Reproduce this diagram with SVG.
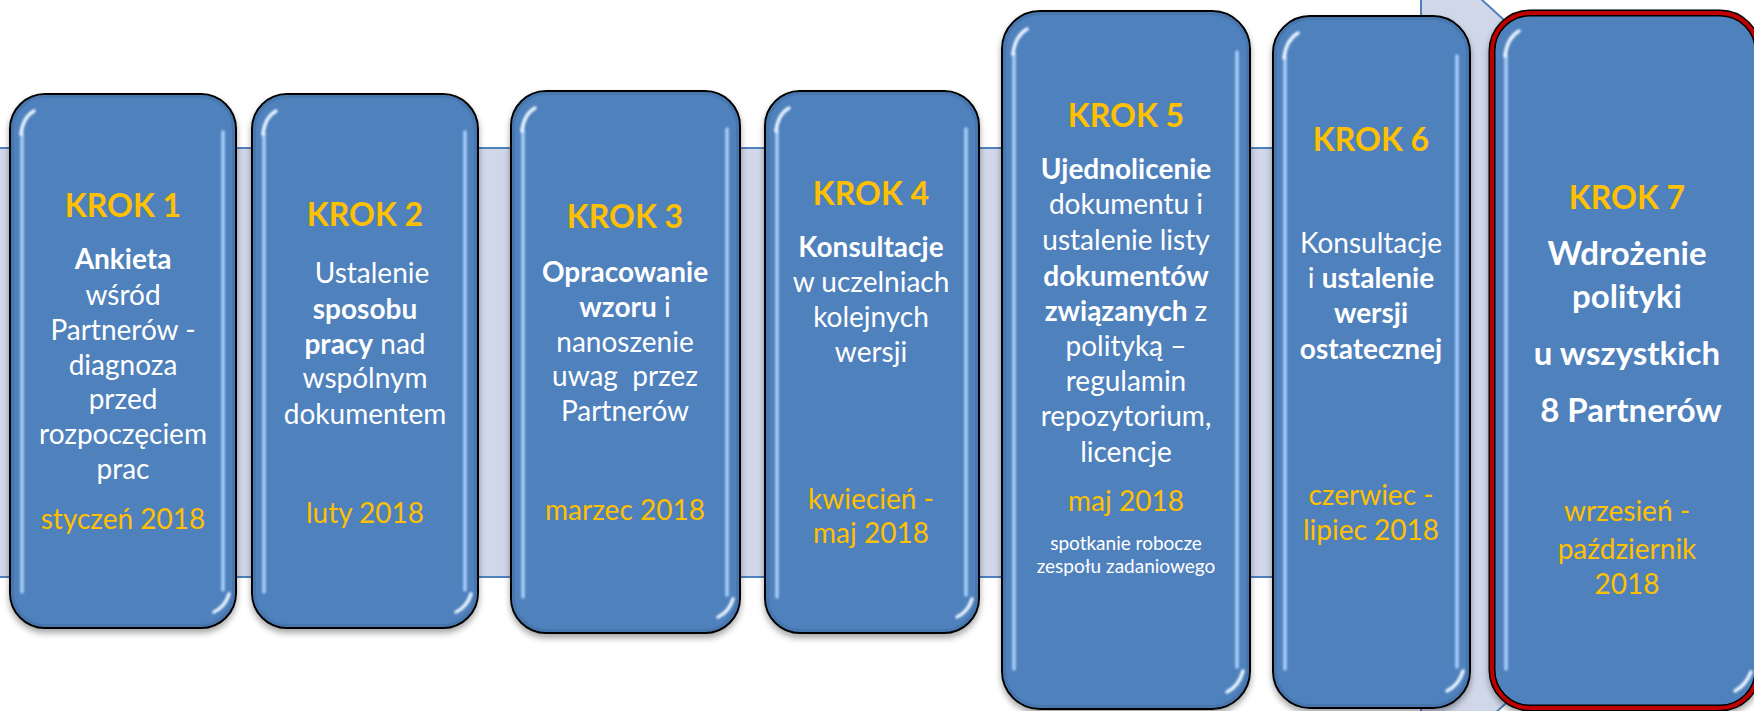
<svg xmlns="http://www.w3.org/2000/svg" width="1754" height="711" viewBox="0 0 1754 711">
<defs>
<style>
.box{fill:#4F81BD;stroke:#000;stroke-width:2;filter:url(#shadow)}
.box7{fill:#4F81BD;stroke:#000;stroke-width:7;filter:url(#shadow)}
.box7red{fill:none;stroke:#C00000;stroke-width:4}
.rim{fill:none;stroke:#456FA3;stroke-width:3;opacity:.6}
.hl{fill:none;stroke:#B3D8FF;stroke-width:3.5;stroke-linecap:round;opacity:.9;filter:url(#soft)}
.hlc{fill:none;stroke:#EAF5FF;stroke-width:3.5;stroke-linecap:round;filter:url(#soft)}
text{font-family:Lato,"Open Sans","Liberation Sans",sans-serif;text-anchor:middle}
.krok{font-size:32px;font-weight:bold;fill:#FFC000}
.t{font-size:28px;fill:#FFFFFF}
.b{font-weight:bold}
.d{font-size:28px;fill:#FFC000}
.s{font-size:19px;fill:#FFFFFF}
.t7{font-size:33px;font-weight:bold;fill:#FFFFFF}
.arrow{fill:#D0D7E8;stroke:#4F81BD;stroke-width:2}
</style>
<filter id="shadow" x="-10%" y="-10%" width="120%" height="120%">
<feDropShadow dx="0" dy="4" stdDeviation="3" flood-color="#000" flood-opacity="0.35"/>
</filter>
<filter id="soft" filterUnits="userSpaceOnUse" x="0" y="0" width="1754" height="711">
<feGaussianBlur stdDeviation="0.8"/>
</filter>
</defs>
<rect width="1754" height="711" fill="#FFFFFF"/>
<g id="connectors">
<polygon class="arrow" points="-10,148 1421,148 1421,-56 1878,362.5 1421,781 1421,577 -10,577"/>
</g>

<g id="step1">
<rect class="box" x="10" y="94" width="226" height="534" rx="35"/>
<rect class="rim" x="12.5" y="96.5" width="221" height="529" rx="33"/>
<path class="hl" d="M22,592 L22,134"/>
<path class="hlc" d="M21,134 Q23,117 34,111"/>
<path class="hl" d="M223,132 L223,590"/>
<path class="hlc" d="M229,594 Q225,607 214,612"/>
<text class="krok" x="123" y="217">KROK 1</text>
<text class="t" x="123" y="269"><tspan class="b">Ankieta</tspan></text>
<text class="t" x="123" y="305">wśród</text>
<text class="t" x="123" y="340">Partnerów -</text>
<text class="t" x="123" y="375">diagnoza</text>
<text class="t" x="123" y="409">przed</text>
<text class="t" x="123" y="444">rozpoczęciem</text>
<text class="t" x="123" y="479">prac</text>
<text class="d" x="123" y="529">styczeń 2018</text>
</g>

<g id="step2">
<rect class="box" x="252" y="94" width="226" height="534" rx="35"/>
<rect class="rim" x="254.5" y="96.5" width="221" height="529" rx="33"/>
<path class="hl" d="M264,592 L264,134"/>
<path class="hlc" d="M263,134 Q265,117 276,111"/>
<path class="hl" d="M465,132 L465,590"/>
<path class="hlc" d="M471,594 Q467,607 456,612"/>
<text class="krok" x="365" y="226">KROK 2</text>
<text class="t" x="372" y="283">Ustalenie</text>
<text class="t" x="365" y="319"><tspan class="b">sposobu</tspan></text>
<text class="t" x="365" y="354"><tspan class="b">pracy</tspan> nad</text>
<text class="t" x="365" y="388">wspólnym</text>
<text class="t" x="365" y="424">dokumentem</text>
<text class="d" x="365" y="523">luty 2018</text>
</g>

<g id="step3">
<rect class="box" x="511" y="91" width="229" height="542" rx="35"/>
<rect class="rim" x="513.5" y="93.5" width="224" height="537" rx="33"/>
<path class="hl" d="M523,597 L523,131"/>
<path class="hlc" d="M522,131 Q524,114 535,108"/>
<path class="hl" d="M727,129 L727,595"/>
<path class="hlc" d="M733,599 Q729,612 718,617"/>
<text class="krok" x="625" y="228">KROK 3</text>
<text class="t" x="625" y="282"><tspan class="b">Opracowanie</tspan></text>
<text class="t" x="625" y="317"><tspan class="b">wzoru</tspan> i</text>
<text class="t" x="625" y="352">nanoszenie</text>
<text class="t" x="625" y="386" xml:space="preserve">uwag  przez</text>
<text class="t" x="625" y="421">Partnerów</text>
<text class="d" x="625" y="520">marzec 2018</text>
</g>

<g id="step4">
<rect class="box" x="765" y="91" width="214" height="542" rx="35"/>
<rect class="rim" x="767.5" y="93.5" width="209" height="537" rx="33"/>
<path class="hl" d="M777,597 L777,131"/>
<path class="hlc" d="M776,131 Q778,114 789,108"/>
<path class="hl" d="M966,129 L966,595"/>
<path class="hlc" d="M972,599 Q968,612 957,617"/>
<text class="krok" x="871" y="205">KROK 4</text>
<text class="t" x="871" y="257"><tspan class="b">Konsultacje</tspan></text>
<text class="t" x="871" y="292">w uczelniach</text>
<text class="t" x="871" y="327">kolejnych</text>
<text class="t" x="871" y="362">wersji</text>
<text class="d" x="871" y="509">kwiecień -</text>
<text class="d" x="871" y="543">maj 2018</text>
</g>

<g id="step5">
<rect class="box" x="1002" y="11" width="248" height="698" rx="38"/>
<rect class="rim" x="1004.5" y="13.5" width="243" height="693" rx="36"/>
<path class="hl" d="M1014,669 L1014,54"/>
<path class="hlc" d="M1013,54 Q1015,36 1027,29"/>
<path class="hl" d="M1237,52 L1237,667"/>
<path class="hlc" d="M1243,671 Q1239,686 1227,692"/>
<text class="krok" x="1126" y="127">KROK 5</text>
<text class="t" x="1126" y="179"><tspan class="b">Ujednolicenie</tspan></text>
<text class="t" x="1126" y="214">dokumentu i</text>
<text class="t" x="1126" y="250">ustalenie listy</text>
<text class="t" x="1126" y="286"><tspan class="b">dokumentów</tspan></text>
<text class="t" x="1126" y="321"><tspan class="b">związanych</tspan> z</text>
<text class="t" x="1126" y="356">polityką –</text>
<text class="t" x="1126" y="391">regulamin</text>
<text class="t" x="1126" y="426">repozytorium,</text>
<text class="t" x="1126" y="462">licencje</text>
<text class="d" x="1126" y="511">maj 2018</text>
<text class="s" x="1126" y="550">spotkanie robocze</text>
<text class="s" x="1126" y="573">zespołu zadaniowego</text>
</g>

<g id="step6">
<rect class="box" x="1273" y="16" width="197" height="692" rx="37"/>
<rect class="rim" x="1275.5" y="18.5" width="192" height="687" rx="35"/>
<path class="hl" d="M1285,669 L1285,58"/>
<path class="hlc" d="M1284,58 Q1286,40 1298,33"/>
<path class="hl" d="M1457,56 L1457,667"/>
<path class="hlc" d="M1463,671 Q1459,685 1447,691"/>
<text class="krok" x="1371" y="151">KROK 6</text>
<text class="t" x="1371" y="253">Konsultacje</text>
<text class="t" x="1371" y="288">i <tspan class="b">ustalenie</tspan></text>
<text class="t" x="1371" y="323"><tspan class="b">wersji</tspan></text>
<text class="t" x="1371" y="359"><tspan class="b">ostatecznej</tspan></text>
<text class="d" x="1371" y="505">czerwiec -</text>
<text class="d" x="1371" y="540">lipiec 2018</text>
</g>

<g id="step7">
<rect class="box7" x="1492" y="13" width="266" height="695" rx="38"/>
<rect class="box7red" x="1492" y="13" width="266" height="695" rx="38"/>
<path class="hl" d="M1506,669 L1506,56"/>
<path class="hlc" d="M1505,56 Q1507,38 1519,31"/>
<path class="hlc" d="M1751,672 Q1746,685 1735,691"/>
<text class="krok" x="1627" y="209">KROK 7</text>
<text class="t7" x="1627" y="265">Wdrożenie</text>
<text class="t7" x="1627" y="308">polityki</text>
<text class="t7" x="1627" y="365">u wszystkich</text>
<text class="t7" x="1631" y="422">8 Partnerów</text>
<text class="d" x="1627" y="521">wrzesień -</text>
<text class="d" x="1627" y="559">październik</text>
<text class="d" x="1627" y="594">2018</text>
</g>
</svg>
